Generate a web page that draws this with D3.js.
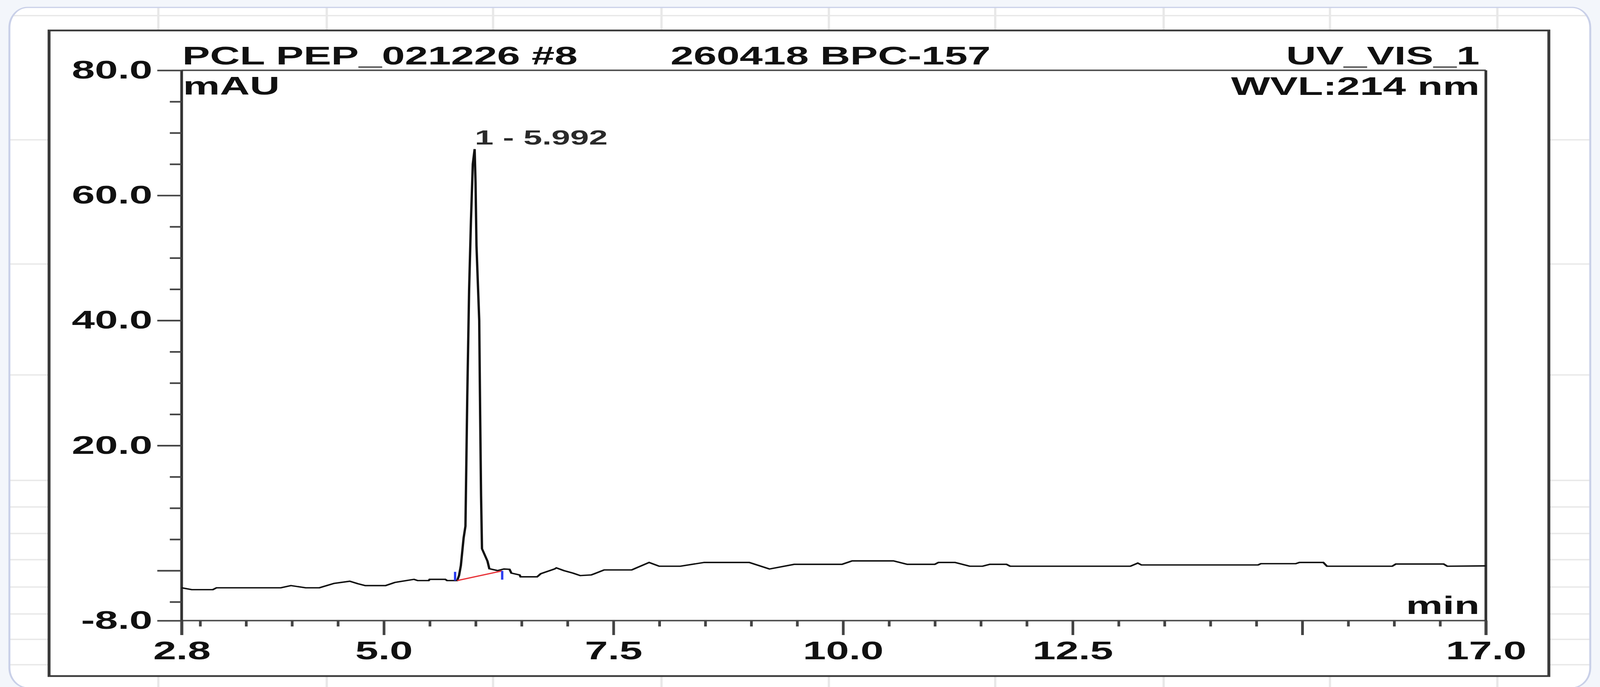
<!DOCTYPE html>
<html>
<head>
<meta charset="utf-8">
<script src="https://cdn.jsdelivr.net/npm/d3@7"></script>
<style>
  html, body { margin: 0; padding: 0; width: 100%; height: 100%; background: #f3f6fb; overflow: hidden; }
  svg { display: block; width: 100vw; height: 100vh; }
</style>
</head>
<body>
<svg id="chart"></svg>
<script>
// chromatogram trace (retention time in min, signal in mAU)
var timeMin = [2.80, 2.91, 3.14, 3.18, 3.88, 3.99, 4.08, 4.15, 4.30, 4.46, 4.63, 4.72, 4.80, 5.02, 5.12,
  5.33, 5.37, 5.49, 5.50, 5.67, 5.69, 5.80, 5.82, 5.84, 5.87, 5.89, 5.91, 5.93, 5.95, 5.97, 5.99,
  6.00, 6.01, 6.04, 6.05, 6.06, 6.07, 6.13, 6.15, 6.24, 6.31, 6.37, 6.39, 6.48, 6.49, 6.67, 6.71,
  6.86, 6.88, 6.96, 7.06, 7.14, 7.26, 7.40, 7.70, 7.89, 8.00, 8.23, 8.49, 8.98, 9.20, 9.47, 9.99,
  10.10, 10.55, 10.70, 11.00, 11.04, 11.22, 11.38, 11.52, 11.60, 11.78, 11.82, 13.13, 13.21, 13.25,
  14.52, 14.55, 14.93, 14.97, 15.23, 15.27, 15.98, 16.02, 16.54, 16.58, 17.00];
var signalMau = [-2.75, -3.05, -3.05, -2.75, -2.75, -2.4, -2.6, -2.75, -2.75, -2.05, -1.7, -2.1, -2.4, -2.4, -1.9,
  -1.4, -1.6, -1.6, -1.4, -1.4, -1.6, -1.6, -0.8, 0.8, 5.2, 7.1, 28, 45, 56, 65, 67.4,
  62, 52, 40, 25, 12, 3.5, 1.5, 0.3, 0.0, 0.25, 0.2, -0.4, -0.7, -1.0, -1.0, -0.5,
  0.25, 0.43, 0.0, -0.4, -0.8, -0.7, 0.1, 0.1, 1.3, 0.7, 0.7, 1.3, 1.3, 0.25, 1.0, 1.0,
  1.55, 1.55, 1.0, 1.0, 1.3, 1.3, 0.7, 0.7, 1.0, 1.0, 0.7, 0.7, 1.2, 0.9,
  0.9, 1.1, 1.1, 1.3, 1.3, 0.7, 0.7, 1.05, 1.05, 0.7, 0.75];

// integrated peak: label, apex, baseline start / end
var peakNames = ["1 - 5.992"];
var peakApex = [[5.992, 67.4]];
var peakBaseStart = [[5.80, -1.6]];
var peakBaseEnd = [[6.29, -0.05]];

var xDomain = [2.8, 17.0];
var yDomain = [-8.0, 80.0];
var xMajorTicks = [2.8, 5.0, 7.5, 10.0, 12.5, 15.0, 17.0];
var xMajorLabels = ["2.8", "5.0", "7.5", "10.0", "12.5", "", "17.0"];
var xMinorTicks = [3.0, 3.5, 4.0, 4.5, 5.5, 6.0, 6.5, 7.0, 8.0, 8.5, 9.0, 9.5, 10.5, 11.0, 11.5, 12.0,
  13.0, 13.5, 14.0, 14.5, 15.5, 16.0, 16.5];
var yMajorTicks = [80, 60, 40, 20, 0, -8];
var yMajorLabels = ["80.0", "60.0", "40.0", "20.0", "", "-8.0"];
var yMinorTicks = [75, 70, 65, 55, 50, 45, 35, 30, 25, 15, 10, 5, -5];

var headerLeft = "PCL PEP_021226 #8",
  headerMid = "260418 BPC-157",
  headerRight = "UV_VIS_1",
  unitY = "mAU",
  wavelength = "WVL:214 nm",
  unitX = "min";

// the screenshot is stretched sideways, so draw in a narrower box and
// let the svg stretch it over the whole window
var W = 4598, H = 1759, stretch = 1.86, vw = W / stretch;
function sx(px) { return px / stretch; }

var font = "'Liberation Sans', Arial, Helvetica, sans-serif";

var svg = d3.select("#chart")
  .attr("viewBox", "0 0 " + vw + " " + H)
  .attr("preserveAspectRatio", "none");

// card with faint sheet grid behind the chart
var card = { x: sx(27), y: 19, w: sx(4570 - 27), h: 1742 };
svg.append("defs").append("clipPath").attr("id", "cardclip")
  .append("rect")
  .attr("x", card.x).attr("y", card.y).attr("width", card.w).attr("height", card.h)
  .attr("rx", sx(52)).attr("ry", 52);

svg.append("rect")
  .attr("x", card.x).attr("y", card.y).attr("width", card.w).attr("height", card.h)
  .attr("rx", sx(52)).attr("ry", 52)
  .attr("fill", "#ffffff");

var grid = svg.append("g").attr("clip-path", "url(#cardclip)")
  .attr("stroke", "#e8e8e8").attr("stroke-width", 3.5);
[455, 939, 1417, 1901, 2382, 2860, 3344, 3822, 4303].forEach(function (gx) {
  grid.append("line").attr("x1", sx(gx)).attr("x2", sx(gx)).attr("y1", 0).attr("y2", H);
});
[40, 358, 676, 960, 1230, 1298, 1366, 1433, 1503, 1572, 1637, 1702].forEach(function (gy) {
  grid.append("line").attr("x1", 0).attr("x2", vw).attr("y1", gy).attr("y2", gy);
});

svg.append("rect")
  .attr("x", card.x).attr("y", card.y).attr("width", card.w).attr("height", card.h)
  .attr("rx", sx(52)).attr("ry", 52)
  .attr("fill", "none").attr("stroke", "#c9d0e8").attr("stroke-width", 3);

// black report frame
svg.append("rect")
  .attr("x", sx(141)).attr("y", 78).attr("width", sx(4451 - 141)).attr("height", 1731 - 78)
  .attr("fill", "#ffffff").attr("stroke", "#3a3a3a").attr("stroke-width", 4.5);

var x = d3.scaleLinear().domain(xDomain).range([sx(522), sx(4270)]);
var y = d3.scaleLinear().domain(yDomain).range([1589, 180]);

var majorLenY = sx(70), minorLenY = sx(34), majorLenX = 37, minorLenX = 15;

// plot box
var box = svg.append("g").attr("stroke", "#333").attr("stroke-width", 4.2).attr("fill", "none");
box.append("line").attr("x1", x(xDomain[0])).attr("x2", x(xDomain[1])).attr("y1", y(yDomain[1])).attr("y2", y(yDomain[1])).attr("stroke", "#555");
box.append("line").attr("x1", x(xDomain[0])).attr("x2", x(xDomain[1])).attr("y1", y(yDomain[0])).attr("y2", y(yDomain[0])).attr("stroke", "#555");
box.append("line").attr("x1", x(xDomain[0])).attr("x2", x(xDomain[0])).attr("y1", y(yDomain[1])).attr("y2", y(yDomain[0]) + majorLenX);
box.append("line").attr("x1", x(xDomain[1])).attr("x2", x(xDomain[1])).attr("y1", y(yDomain[1])).attr("y2", y(yDomain[0]) + majorLenX);

function styleAxis(g) {
  g.select(".domain").remove();
  g.selectAll(".tick line").attr("stroke", "#444").attr("stroke-width", 4.2);
  g.selectAll(".tick text")
    .attr("font-family", font).attr("font-size", 64).attr("font-weight", "bold").attr("fill", "#111");
}

svg.append("g").attr("transform", "translate(" + x(xDomain[0]) + ",0)")
  .call(d3.axisLeft(y).tickValues(yMajorTicks).tickSize(majorLenY).tickPadding(sx(14))
    .tickFormat(function (d, i) { return yMajorLabels[i]; }))
  .call(styleAxis);
svg.append("g").attr("transform", "translate(" + x(xDomain[0]) + ",0)")
  .call(d3.axisLeft(y).tickValues(yMinorTicks).tickSize(minorLenY).tickFormat(""))
  .call(styleAxis);

svg.append("g").attr("transform", "translate(0," + y(yDomain[0]) + ")")
  .call(d3.axisBottom(x).tickValues(xMajorTicks).tickSize(majorLenX).tickPadding(17)
    .tickFormat(function (d, i) { return xMajorLabels[i]; }))
  .call(styleAxis);
svg.append("g").attr("transform", "translate(0," + y(yDomain[0]) + ")")
  .call(d3.axisBottom(x).tickValues(xMinorTicks).tickSize(minorLenX).tickFormat(""))
  .call(styleAxis);

// signal
var trace = d3.zip(timeMin, signalMau);
svg.append("path")
  .datum(trace)
  .attr("fill", "none").attr("stroke", "#111").attr("stroke-width", 3.6)
  .attr("stroke-linejoin", "miter")
  .attr("d", d3.line().x(function (d) { return x(d[0]); }).y(function (d) { return y(d[1]); }));

// peak baseline and delimiters
peakNames.forEach(function (name, i) {
  var a = peakBaseStart[i], b = peakBaseEnd[i];
  svg.append("line")
    .attr("x1", x(a[0])).attr("y1", y(a[1])).attr("x2", x(b[0])).attr("y2", y(b[1]))
    .attr("stroke", "#e8343a").attr("stroke-width", 3.2);
  svg.append("line")
    .attr("x1", x(a[0]) - sx(6)).attr("x2", x(a[0]) - sx(6))
    .attr("y1", y(a[1])).attr("y2", y(a[1] + 1.4))
    .attr("stroke", "#2b3cf0").attr("stroke-width", 3.6);
  svg.append("line")
    .attr("x1", x(b[0])).attr("x2", x(b[0]))
    .attr("y1", y(b[1])).attr("y2", y(b[1] - 1.4))
    .attr("stroke", "#2b3cf0").attr("stroke-width", 3.6);
  svg.append("text")
    .attr("x", x(peakApex[i][0])).attr("y", y(peakApex[i][1]) - 12)
    .attr("font-family", font).attr("font-size", 52).attr("font-weight", "bold").attr("fill", "#2a2a2a")
    .text(name);
});

// header and unit labels
function label(txt, px, py, anchor) {
  svg.append("text")
    .attr("x", sx(px)).attr("y", py)
    .attr("text-anchor", anchor || "start")
    .attr("font-family", font).attr("font-size", 64).attr("font-weight", "bold").attr("fill", "#111")
    .text(txt);
}
label(headerLeft, 524, 165);
label(headerMid, 1927, 165);
label(headerRight, 4252, 165, "end");
label(unitY, 526, 242);
label(wavelength, 4252, 243, "end");
label(unitX, 4252, 1572, "end");
</script>
</body>
</html>
